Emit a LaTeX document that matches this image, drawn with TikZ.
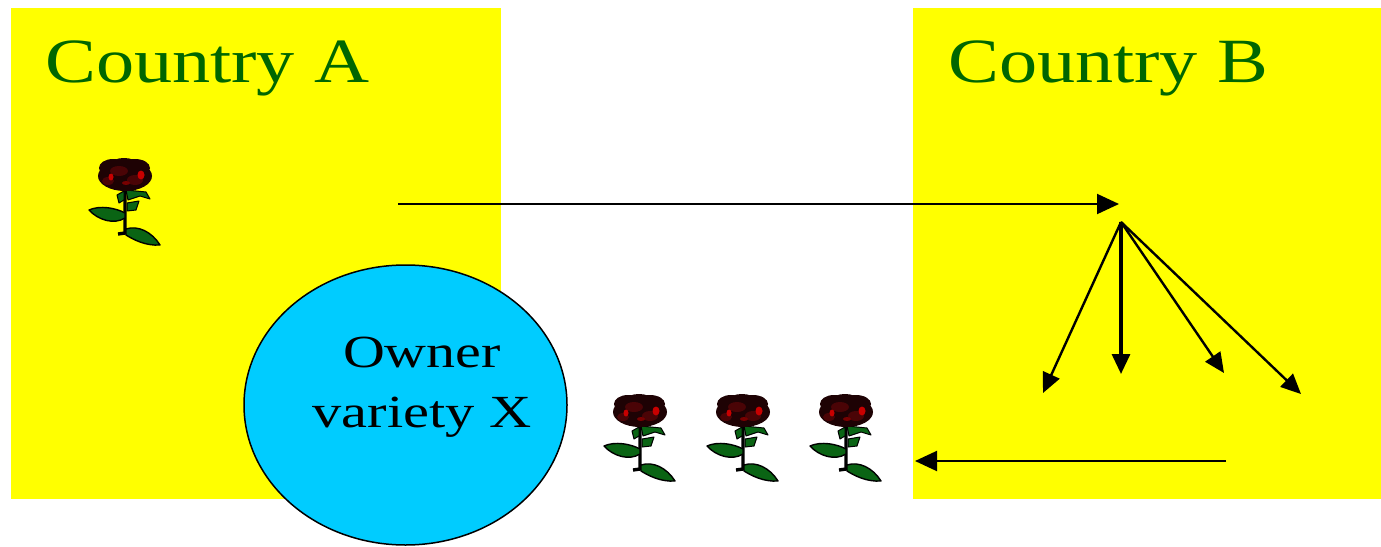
\documentclass[tikz,border=0pt]{standalone}
\usepackage{fontspec}
\setmainfont{Liberation Serif}
\usetikzlibrary{arrows.meta,shapes.geometric}
\definecolor{countryyellow}{HTML}{FFFF00}
\definecolor{titlegreen}{HTML}{006600}
\definecolor{ownercyan}{HTML}{00CCFF}
\definecolor{leafgreen}{HTML}{0A6414}
\definecolor{bloomdark}{HTML}{1E0204}
\definecolor{bloommid}{HTML}{4A0406}
\definecolor{bloomred}{HTML}{C80000}
\tikzset{
  countrybox/.style={fill=countryyellow, inner sep=0pt, anchor=north west},
  countrytitle/.style={text=titlegreen, inner sep=0pt, anchor=base west,
    font=\fontsize{63}{70}\selectfont},
  ownertext/.style={inner sep=0pt, anchor=base, font=\fontsize{46}{52}\selectfont},
  flow/.style={line width=2pt, -{Triangle[length=22pt,width=20pt]}},
  spread/.style={line width=2.4pt, -{Triangle[length=20pt,width=18pt]}},
  leaf/.style={fill=leafgreen, draw=black, line width=1.4pt, line join=round},
  rose/.pic={
    % stem
    \draw[line width=3.4pt, black] (37,30) -- (37,74) -- (30,75);
    % leaf on the left of the stem
    \path[leaf] (37,59) .. controls (26,66) and (10,61) .. (1,51)
      .. controls (12,46) and (28,49) .. (37,54) -- cycle;
    % leaf at the foot of the stem
    \path[leaf] (38,70) .. controls (50,66) and (64,73) .. (72,86)
      .. controls (58,87) and (46,81) .. (38,76) -- cycle;
    % sepals under the bloom
    \path[leaf, line width=1pt] (38,31) -- (58,33) -- (62,40) -- (52,37) -- (40,41) -- cycle;
    \path[leaf, line width=1pt] (36,32) -- (29,36) -- (31,44) -- (36,41) -- cycle;
    \path[leaf, line width=1pt] (39,44) -- (51,42) -- (48,51) -- (39,52) -- cycle;
    % bloom
    \fill[bloomdark] (37,17) ellipse [x radius=27, y radius=15];
    \fill[bloomdark] (25,9) ellipse [x radius=14, y radius=9];
    \fill[bloomdark] (47,9) ellipse [x radius=15, y radius=9];
    \fill[bloomdark] (36,4) ellipse [x radius=12, y radius=5];
    \fill[bloommid] (31,12) ellipse [x radius=9, y radius=5];
    \fill[bloommid] (47,21) ellipse [x radius=8, y radius=5];
    \fill[bloommid] (20,22) ellipse [x radius=6, y radius=4];
    \fill[bloomred] (23,18) ellipse [x radius=2.5, y radius=3.5];
    \fill[bloomred] (53,16) ellipse [x radius=3.5, y radius=4.5];
    \fill[bloomred!60!black] (38,24) ellipse [x radius=4, y radius=2];
  }
}
\begin{document}
\begin{tikzpicture}[x=1pt, y=-1pt]
  \useasboundingbox[fill=white] (0,0) rectangle (1381,546);

  % the two countries
  \node[countrybox, minimum width=490pt, minimum height=491pt] (boxA) at (11,8) {};
  \node[countrybox, minimum width=468pt, minimum height=491pt] (boxB) at (913,8) {};
  \node[countrytitle] (titleA) at (45,82) {\scalebox{1.21}[1]{Country A}};
  \node[countrytitle] (titleB) at (948,82) {\scalebox{1.21}[1]{Country B}};

  % owner of the variety
  \node[ellipse, fill=ownercyan, draw=black, line width=1.5pt,
        minimum width=323pt, minimum height=280pt, inner sep=0pt] (owner) at (405.5,405) {};
  \node[ownertext] (ownerA) at (422,367) {\scalebox{1.26}[1]{Owner}};
  \node[ownertext] (ownerB) at (422,427) {\scalebox{1.27}[1]{variety X}};

  % roses
  \pic at (88,159) {rose};
  \pic at (603,395) {rose};
  \pic at (706,395) {rose};
  \pic at (809,395) {rose};

  % export to country B
  \coordinate (exportStart) at (398,204);
  \coordinate (exportEnd) at (1119,204);
  \draw[flow] (exportStart) -- (exportEnd);

  % propagation inside country B
  \coordinate (hub) at (1121,222);
  \coordinate (out1) at (1043,393);
  \coordinate (out2) at (1121,374);
  \coordinate (out3) at (1224,373);
  \coordinate (out4) at (1301,394);
  \draw[spread] (hub) -- (out1);
  \draw[spread, line width=3.2pt] (hub) -- (out2);
  \draw[spread] (hub) -- (out3);
  \draw[spread] (hub) -- (out4);

  % flowers coming back
  \coordinate (returnStart) at (1226,461);
  \coordinate (returnEnd) at (915,461);
  \draw[flow] (returnStart) -- (returnEnd);
\end{tikzpicture}
\end{document}
